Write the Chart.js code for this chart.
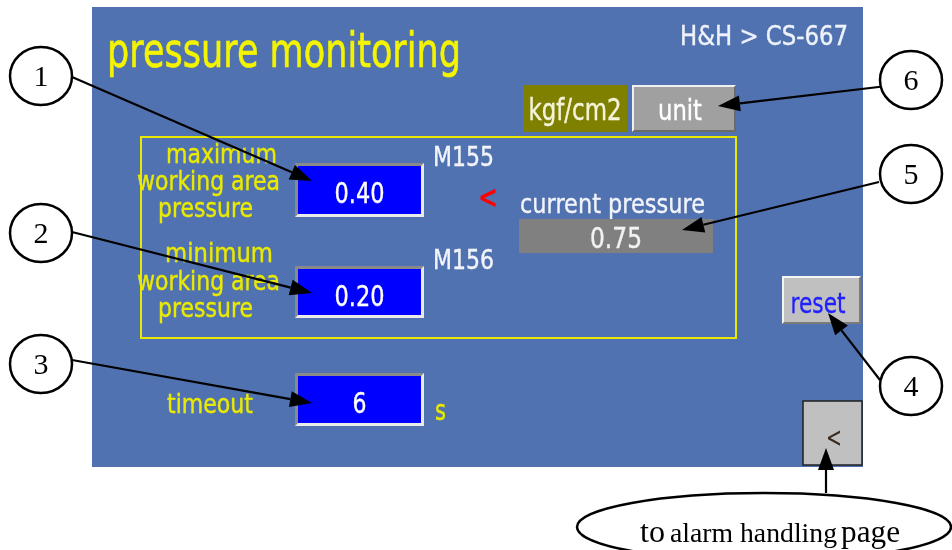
<!DOCTYPE html>
<html>
<head>
<meta charset="utf-8">
<title>pressure monitoring</title>
<script src="https://cdn.jsdelivr.net/npm/chart.js@4.4.1/dist/chart.umd.min.js"></script>
<style>
    html, body { margin: 0; padding: 0; background: #fff; }
    canvas { display: block; }
</style>
</head>
<body>
<canvas id="hmi" width="952" height="550"></canvas>
<script>
// values shown on the screen
const screenTitle = 'pressure monitoring';
const screenPath = 'H&H > CS-667';
const fieldLabels = [['maximum', 'working area', 'pressure'], ['minimum', 'working area', 'pressure'], ['timeout']];
const fieldValues = [0.40, 0.20, 6];
const fieldDecimals = [2, 2, 0];
const fieldTags = ['M155', 'M156', ''];
const fieldUnits = ['', '', 's'];
const currentLabel = 'current pressure';
const currentPressure = 0.75;
const pressureUnit = 'kgf/cm2';
const buttonLabels = ['unit', 'reset', '<'];
const calloutNumbers = ['1', '2', '3', '4', '5', '6'];
const pageNote = ['to', 'alarm handling', 'page'];

const HMI_FONT = '"DejaVu Sans"';
const NOTE_FONT = '"Liberation Serif"';

// screen layout (pixels in the 952 x 550 frame)
const layout = {
    panel: [92, 7, 863, 467],
    frame: [141, 137, 736, 338],
    boxes: [[295, 163, 424, 217], [295, 266, 424, 318], [295, 373, 424, 426]],
    labelLines: [
        [[166, 163, 111], [137, 190, 143], [158, 217, 95]],
        [[165, 262, 108], [137, 290, 143], [158, 317, 95]],
        [[167, 413, 86]]
    ],
    tags: [[433, 166], [433, 269]],
    unitText: [435, 420],
    current: [519, 219, 713, 253],
    callouts: [[41, 76], [41, 233], [41, 364], [911, 386], [911, 174], [911, 80]],
    arrows: [
        [72, 77, 312, 181],
        [72, 232, 312, 293],
        [72, 360, 312, 403],
        [880, 380, 828, 313],
        [879, 182, 682, 230],
        [887, 86, 718, 106],
        [826, 493, 826, 448]
    ]
};

function drawText(ctx, str, x, y, o) {
    ctx.save();
    ctx.font = (o.weight || '') + ' ' + o.size + 'px ' + (o.family || HMI_FONT);
    ctx.fillStyle = o.color;
    ctx.textBaseline = 'alphabetic';
    let w = ctx.measureText(str).width;
    let target = o.width || w;
    let left = x;
    if (o.align === 'center') left = x - target / 2;
    if (o.align === 'right') left = x - target;
    ctx.translate(left, y);
    ctx.scale(target / w, 1);
    ctx.fillText(str, 0, 0);
    if (o.heavy) {
        ctx.strokeStyle = o.color;
        ctx.lineWidth = o.heavy;
        ctx.strokeText(str, 0, 0);
    }
    ctx.restore();
}

function bevel(ctx, r, fill, light, dark, bw) {
    let [x1, y1, x2, y2] = r;
    ctx.fillStyle = light;
    ctx.fillRect(x1, y1, x2 - x1, y2 - y1);
    ctx.fillStyle = dark;
    ctx.beginPath();
    ctx.moveTo(x2, y1);
    ctx.lineTo(x2, y2);
    ctx.lineTo(x1, y2);
    ctx.lineTo(x1 + bw, y2 - bw);
    ctx.lineTo(x2 - bw, y2 - bw);
    ctx.lineTo(x2 - bw, y1 + bw);
    ctx.closePath();
    ctx.fill();
    ctx.fillStyle = fill;
    ctx.fillRect(x1 + bw, y1 + bw, x2 - x1 - 2 * bw, y2 - y1 - 2 * bw);
}

function arrow(ctx, x1, y1, x2, y2) {
    let a = Math.atan2(y2 - y1, x2 - x1);
    let len = 22, half = 8;
    let bx = x2 - len * Math.cos(a), by = y2 - len * Math.sin(a);
    ctx.strokeStyle = '#000';
    ctx.lineWidth = 2.2;
    ctx.beginPath();
    ctx.moveTo(x1, y1);
    ctx.lineTo(bx, by);
    ctx.stroke();
    ctx.fillStyle = '#000';
    ctx.beginPath();
    ctx.moveTo(x2, y2);
    ctx.lineTo(bx + half * Math.sin(a), by - half * Math.cos(a));
    ctx.lineTo(bx - half * Math.sin(a), by + half * Math.cos(a));
    ctx.closePath();
    ctx.fill();
}

const hmiPanel = {
    id: 'hmiPanel',
    afterDraw(chart) {
        const ctx = chart.ctx;
        const xs = chart.scales.x, ys = chart.scales.y;
        const X = v => xs.getPixelForValue(v);
        const Y = v => ys.getPixelForValue(v);
        const R = r => [X(r[0]), Y(r[1]), X(r[2]), Y(r[3])];

        ctx.save();

        // panel background
        let p = R(layout.panel);
        ctx.fillStyle = '#5172B0';
        ctx.fillRect(p[0], p[1], p[2] - p[0], p[3] - p[1]);

        drawText(ctx, screenTitle, X(107), Y(67), {size: 48, width: 354, color: '#F4F400', heavy: 0.6});
        drawText(ctx, screenPath, X(848), Y(45), {size: 26, width: 168, color: '#EEF2FA', align: 'right', heavy: 0.4});

        // unit indicator + unit button
        ctx.fillStyle = '#808000';
        ctx.fillRect(X(523), Y(85), X(627) - X(523), Y(132) - Y(85));
        drawText(ctx, pressureUnit, X(575), Y(120), {size: 30, width: 93, color: '#F4F4D8', align: 'center', heavy: 0.4});
        bevel(ctx, R([632, 85, 736, 132]), '#A0A0A0', '#F0F0F0', '#6A6A6A', 2);
        drawText(ctx, buttonLabels[0], X(680), Y(120), {size: 29, width: 44, color: '#FFFFFF', align: 'center', heavy: 0.4});

        // setpoint frame
        let f = R(layout.frame);
        ctx.strokeStyle = '#E8E800';
        ctx.lineWidth = 2;
        ctx.strokeRect(f[0], f[1], f[2] - f[0], f[3] - f[1]);

        // fields
        fieldValues.forEach((v, i) => {
            let b = R(layout.boxes[i]);
            bevel(ctx, b, '#0000FF', '#8A8A8A', '#EAEAEA', 3);
            let txt = v.toFixed(fieldDecimals[i]);
            let w = txt.length > 1 ? 50 : 14;
            drawText(ctx, txt, (b[0] + b[2]) / 2, b[1] + 40, {size: 29, width: w, color: '#FFFFFF', align: 'center', heavy: 0.4});

            fieldLabels[i].forEach((line, j) => {
                let [lx, ly, lw] = layout.labelLines[i][j];
                drawText(ctx, line, X(lx), Y(ly), {size: 26, width: lw, color: '#EAEA00', heavy: 0.4});
            });

            if (fieldTags[i]) {
                let [tx, ty] = layout.tags[i];
                drawText(ctx, fieldTags[i], X(tx), Y(ty), {size: 27, width: 61, color: '#F2F4FA', heavy: 0.4});
            }
            if (fieldUnits[i]) {
                drawText(ctx, fieldUnits[i], X(layout.unitText[0]), Y(layout.unitText[1]), {size: 28, width: 11, color: '#EAEA00', heavy: 0.4});
            }
        });

        // comparison sign and current pressure
        drawText(ctx, '<', X(488), Y(208), {size: 32, width: 20, color: '#FF0000', weight: 'bold', align: 'center'});
        drawText(ctx, currentLabel, X(520), Y(213), {size: 27, width: 185, color: '#F2F4FA', heavy: 0.4});
        let c = R(layout.current);
        ctx.fillStyle = '#808080';
        ctx.fillRect(c[0], c[1], c[2] - c[0], c[3] - c[1]);
        drawText(ctx, currentPressure.toFixed(2), (c[0] + c[2]) / 2, Y(248), {size: 29, width: 52, color: '#F2F2F2', align: 'center', heavy: 0.4});

        // reset button
        bevel(ctx, R([782, 276, 861, 324]), '#C0C0C0', '#F4F4F4', '#7A7A7A', 2);
        drawText(ctx, buttonLabels[1], X(818), Y(313), {size: 28, width: 55, color: '#2020FF', align: 'center', heavy: 0.3});

        // back button
        let bb = R([803, 401, 862, 465]);
        ctx.fillStyle = '#C0C0C0';
        ctx.fillRect(bb[0], bb[1], bb[2] - bb[0], bb[3] - bb[1]);
        ctx.strokeStyle = '#202020';
        ctx.lineWidth = 1.5;
        ctx.strokeRect(bb[0], bb[1], bb[2] - bb[0], bb[3] - bb[1]);
        drawText(ctx, buttonLabels[2], X(834), Y(447), {size: 28, width: 16, color: '#3A2A20', align: 'center'});

        // callouts
        layout.arrows.forEach(a => arrow(ctx, X(a[0]), Y(a[1]), X(a[2]), Y(a[3])));
        calloutNumbers.forEach((n, i) => {
            let [cx, cy] = layout.callouts[i];
            ctx.fillStyle = '#FFFFFF';
            ctx.strokeStyle = '#000';
            ctx.lineWidth = 2.5;
            ctx.beginPath();
            ctx.ellipse(X(cx), Y(cy), 31, 29, 0, 0, Math.PI * 2);
            ctx.fill();
            ctx.stroke();
            drawText(ctx, n, X(cx), Y(cy) + 10, {size: 30, color: '#000', family: NOTE_FONT, align: 'center'});
        });

        // note ellipse
        ctx.fillStyle = '#FFFFFF';
        ctx.strokeStyle = '#000';
        ctx.lineWidth = 2.5;
        ctx.beginPath();
        ctx.ellipse(X(764), Y(527), 187, 34, 0, 0, Math.PI * 2);
        ctx.fill();
        ctx.stroke();
        drawText(ctx, pageNote[0], X(640), Y(542), {size: 32, width: 25, color: '#000', family: NOTE_FONT});
        drawText(ctx, pageNote[1], X(670), Y(542), {size: 27, width: 167, color: '#000', family: NOTE_FONT});
        drawText(ctx, pageNote[2], X(841), Y(542), {size: 31, width: 59, color: '#000', family: NOTE_FONT});

        ctx.restore();
    }
};

new Chart(document.getElementById('hmi'), {
    type: 'scatter',
    data: {
        datasets: [{data: []}]
    },
    options: {
        responsive: false,
        animation: false,
        devicePixelRatio: 1,
        layout: {padding: 0},
        scales: {
            x: {type: 'linear', min: 0, max: 952, display: false},
            y: {type: 'linear', min: 0, max: 550, reverse: true, display: false}
        },
        plugins: {
            legend: {display: false},
            tooltip: {enabled: false}
        }
    },
    plugins: [hmiPanel]
});
</script>
</body>
</html>
